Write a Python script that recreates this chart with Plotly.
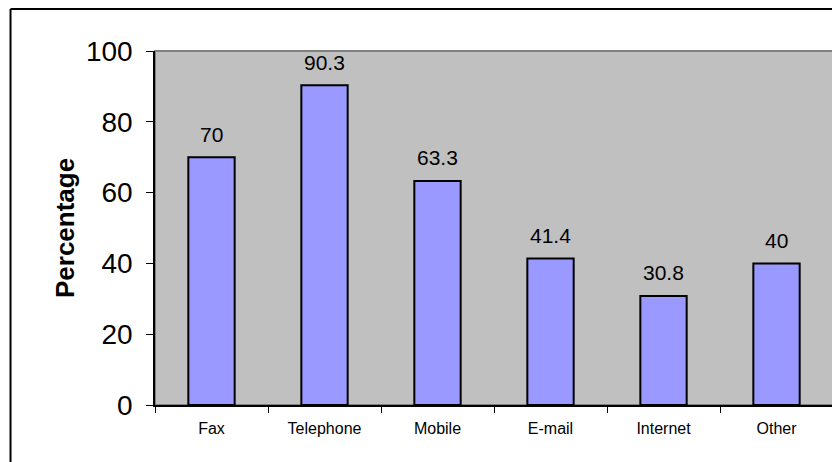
import plotly.graph_objects as go

# Data
channels = ["Fax", "Telephone", "Mobile", "E-mail", "Internet", "Other"]
percentages = [70, 90.3, 63.3, 41.4, 30.8, 40]
y_ticks = [0, 20, 40, 60, 80, 100]

FONT = "Arial, Liberation Sans"

fig = go.Figure()
fig.add_trace(go.Bar(
    x=channels, y=percentages,
    marker=dict(color="#9999FF", line=dict(color="black", width=2)),
    hoverinfo="x+y",
))

# value labels above bars
for c, v in zip(channels, percentages):
    fig.add_annotation(x=c, y=v, text=f"{v:g}", showarrow=False,
                       yanchor="middle", yshift=23,
                       font=dict(family=FONT, size=21, color="black"))

# y axis title
fig.add_annotation(xref="paper", yref="paper", x=-0.1327, y=0.5, text="<b>Percentage</b>",
                   textangle=-90, showarrow=False, xanchor="center", yanchor="middle",
                   font=dict(family=FONT, size=26, color="black"))

# plot area border (gray top/right) and outer chart frame (left/top visible)
fig.add_shape(type="rect", xref="paper", yref="paper", x0=0, y0=0, x1=1, y1=1,
              line=dict(color="#808080", width=2), layer="below")
fig.add_shape(type="line", xref="paper", yref="paper", x0=-0.2131, y0=-0.2, x1=-0.2131, y1=1.1186,
              line=dict(color="black", width=2))
fig.add_shape(type="line", xref="paper", yref="paper", x0=-0.2131, y0=1.1186, x1=1.1, y1=1.1186,
              line=dict(color="black", width=2))

# page body has an 8px margin, so margins are shifted to compensate
fig.update_layout(
    width=840, height=462,
    margin=dict(l=147, r=15, t=43, b=65),
    paper_bgcolor="white", plot_bgcolor="#C0C0C0",
    bargap=0.59,
    showlegend=False,
    font=dict(family=FONT, color="black"),
)
fig.update_xaxes(
    showline=True, linecolor="black", linewidth=1.5, automargin=False,
    ticks="outside", tickson="boundaries", ticklen=6, tickcolor="black",
    ticklabelstandoff=8, tickfont=dict(size=16), showgrid=False,
)
fig.update_yaxes(
    range=[0, 100], tickvals=y_ticks, showline=True, linecolor="black", linewidth=1.5,
    automargin=False, ticks="outside", ticklen=7, tickcolor="black", ticklabelstandoff=8,
    tickfont=dict(size=28), showgrid=False, zeroline=False,
)

fig.write_html("out.html")
